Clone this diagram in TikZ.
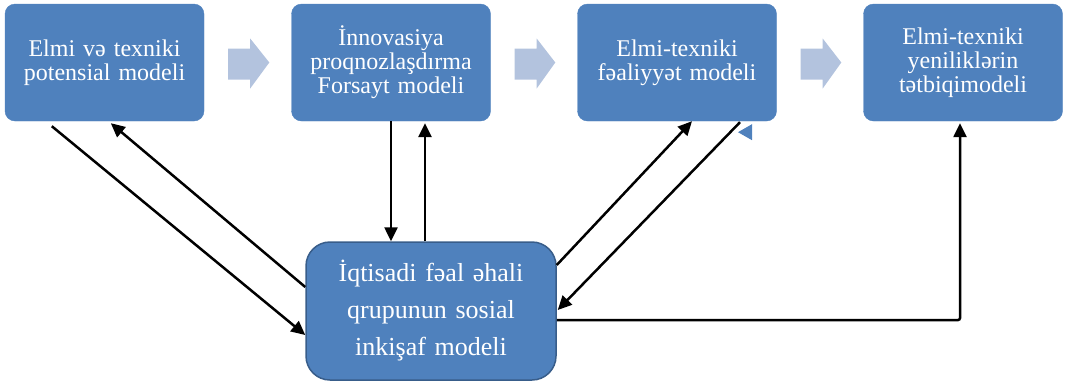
\documentclass[tikz,border=0pt]{standalone}
\usepackage{fontspec}
\setmainfont{Liberation Serif}
\usetikzlibrary{arrows.meta,calc}
\definecolor{boxblue}{HTML}{4F81BD}
\definecolor{boxedge}{HTML}{385D8A}
\definecolor{flowblue}{HTML}{B3C3DE}
\tikzset{
  topbox/.style={rectangle, rounded corners=10pt, fill=boxblue, draw=boxblue, minimum width=199pt, minimum height=117pt, inner sep=0pt, text width=190pt, align=center, text=white, font=\fontsize{24}{24}\selectfont},
  botbox/.style={rectangle, rounded corners=24pt, fill=boxblue, draw=boxedge, line width=1.5pt, minimum width=250pt, minimum height=138pt, inner sep=0pt, text width=240pt, align=center, text=white, font=\fontsize{26}{37}\selectfont},
  conn/.style={line width=2.5pt, -{Triangle[length=14pt,width=13pt]}},
  flow/.style={fill=flowblue, draw=none}
}
\begin{document}
\begin{tikzpicture}[x=1pt,y=-1pt]
\useasboundingbox (0,0) rectangle (1065,384);
\node[topbox] (b1) at (104.5,62.5) {Elmi və texniki\\potensial modeli};
\node[topbox] (b2) at (391,62.5) {İnnovasiya\\proqnozlaşdırma\\Forsayt modeli};
\node[topbox] (b3) at (677,62.5) {Elmi-texniki\\fəaliyyət modeli};
\node[topbox] (b4) at (963,62.5) {Elmi-texniki\\yeniliklərin\\tətbiqimodeli};
\node[botbox] (bot) at (431,311) {İqtisadi fəal əhali\\qrupunun sosial\\inkişaf modeli};
% flow arrows between top boxes
\foreach \a/\b in {b1/b2,b2/b3,b3/b4}{
  \path (\a.east) coordinate (s) (\b.west) coordinate (e);
  \fill[flow] ($(s)+(24,-14)$) -- ($(s)+(46,-14)$) -- ($(s)+(46,-24)$) -- ($(e)+(-22,0)$) -- ($(s)+(46,26)$) -- ($(s)+(46,17)$) -- ($(s)+(24,17)$) -- cycle;
}
% connectors
\draw[conn] ($(b1.south west)+(47,5)$) -- ($(bot.west)+(0,24)$);
\draw[conn] ($(bot.west)+(0,-24)$) -- ($(b1.south west)+(106,2)$);
\draw[conn] (b2.south) -- (b2.south |- bot.north);
\draw[conn] ($(bot.north)+(-6,0)$) -- ($(b2.south)+(34,2)$);
\draw[conn] ($(bot.east)+(0,-46)$) -- ($(b3.south)+(15,0)$);
\draw[conn] ($(b3.south)+(63,1)$) -- ($(bot.east)+(1,-1)$);
\draw[conn, rounded corners=2pt] ($(bot.east)+(0,9)$) -| ($(b4.south)+(-3,2)$);
% small blue triangle
\fill[boxblue] ($(b3.south)+(75,3)$) -- ($(b3.south)+(75,19)$) -- ($(b3.south)+(61,11)$) -- cycle;
\end{tikzpicture}
\end{document}
